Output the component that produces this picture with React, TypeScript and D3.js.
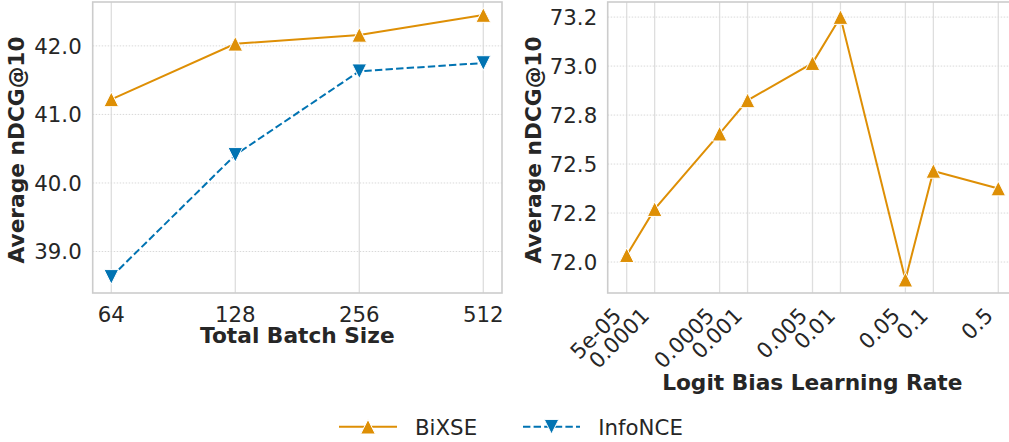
import React from "react";
import * as d3 from "d3";

const batchSizes = [64, 128, 256, 512];
const bixseBatch = [41.22, 42.03, 42.16, 42.45];
const infonceBatch = [38.63, 40.41, 41.63, 41.75];
const batchTickLabels = ["64", "128", "256", "512"];
const leftYTicks = [39, 40, 41, 42];
const leftYTickLabels = ["39.0", "40.0", "41.0", "42.0"];

const learningRates = [5e-5, 1e-4, 5e-4, 1e-3, 5e-3, 1e-2, 5e-2, 1e-1, 5e-1];
const lrTickLabels = ["5e-05", "0.0001", "0.0005", "0.001", "0.005", "0.01", "0.05", "0.1", "0.5"];
const bixseLR = [72.035, 72.27, 72.655, 72.825, 73.015, 73.25, 71.91, 72.465, 72.375];
const rightYTicks = [72.0, 72.25, 72.5, 72.75, 73.0, 73.25];
const rightYTickLabels = ["72.0", "72.2", "72.5", "72.8", "73.0", "73.2"];

const ORANGE = "#de8f05";
const BLUE = "#0173b2";
const TEXT = "#262626";
const FONT = "DejaVu Sans";
const FS = 21.3;
const FSB = 21.7;

const tri = (x: number, y: number, up: boolean, s = 7.3) =>
  up
    ? `M${x},${y - s}L${x + s},${y + s}L${x - s},${y + s}Z`
    : `M${x},${y + s}L${x + s},${y - s}L${x - s},${y - s}Z`;

export default function App() {
  const W = 1009;
  const H = 442;

  // Left panel
  const L = { x0: 92.7, x1: 502, y0: 2, y1: 293 };
  const xL = d3.scaleLog().base(2).domain([64, 512]).range([111.3, 483.3]);
  const yL = d3.scaleLinear().domain([38.395, 42.64]).range([L.y1, L.y0]);

  // Right panel
  const R = { x0: 607.7, x1: 1017, y0: 2, y1: 293 };
  const xR = d3.scaleLog().domain([5e-5, 0.5]).range([626.7, 998.3]);
  const yR = d3.scaleLinear().domain([71.842, 73.327]).range([R.y1, R.y0]);

  const lineL = (vals: number[]) =>
    d3.line<number>().x((_, i) => xL(batchSizes[i])).y((v) => yL(v))(vals) || "";
  const lineR = d3.line<number>().x((_, i) => xR(learningRates[i])).y((v) => yR(v))(bixseLR) || "";

  const gridV = "#dedede";
  const gridH = "#d9d9d9";
  const frame = "#cccccc";

  return (
    <svg
      width={W}
      height={H}
      style={{ position: "absolute", left: 0, top: 0, background: "#fff" }}
      fontFamily={FONT}
    >
      <rect x={0} y={0} width={W} height={H} fill="#fff" />
      {/* LEFT PANEL */}
      <g>
        {batchSizes.map((b) => (
          <line key={b} x1={xL(b)} x2={xL(b)} y1={L.y0} y2={L.y1} stroke={gridV} strokeWidth={1.3} />
        ))}
        {leftYTicks.map((t) => (
          <line key={t} x1={L.x0} x2={L.x1} y1={yL(t)} y2={yL(t)} stroke={gridH} strokeWidth={1} strokeDasharray="1.5,1.5" />
        ))}
        <rect x={L.x0} y={L.y0} width={L.x1 - L.x0} height={L.y1 - L.y0} fill="none" stroke={frame} strokeWidth={1.6} />
        <path d={lineL(bixseBatch)} fill="none" stroke={ORANGE} strokeWidth={2} />
        <path d={lineL(infonceBatch)} fill="none" stroke={BLUE} strokeWidth={2} strokeDasharray="7.4,3.2" />
        {bixseBatch.map((v, i) => (
          <path key={"b" + i} d={tri(xL(batchSizes[i]), yL(v), true)} fill={ORANGE} stroke="#fff" strokeWidth={1} />
        ))}
        {infonceBatch.map((v, i) => (
          <path key={"n" + i} d={tri(xL(batchSizes[i]), yL(v), false)} fill={BLUE} stroke="#fff" strokeWidth={1} />
        ))}
        {leftYTicks.map((t, i) => (
          <text key={t} x={L.x0 - 11} y={yL(t)} dy="0.36em" textAnchor="end" fontSize={FS} fill={TEXT}>
            {leftYTickLabels[i]}
          </text>
        ))}
        {batchSizes.map((b, i) => (
          <text key={b} x={xL(b)} y={321.5} textAnchor="middle" fontSize={FS} fill={TEXT}>
            {batchTickLabels[i]}
          </text>
        ))}
        <text x={(L.x0 + L.x1) / 2} y={343.3} textAnchor="middle" fontSize={FSB} fontWeight="bold" fill={TEXT}>
          Total Batch Size
        </text>
        <text
          transform={`translate(24,150) rotate(-90)`}
          textAnchor="middle"
          fontSize={FSB}
          fontWeight="bold"
          fill={TEXT}
        >
          Average nDCG@10
        </text>
      </g>

      {/* RIGHT PANEL */}
      <g>
        {learningRates.map((b) => (
          <line key={b} x1={xR(b)} x2={xR(b)} y1={R.y0} y2={R.y1} stroke={gridV} strokeWidth={1.3} />
        ))}
        {rightYTicks.map((t) => (
          <line key={t} x1={R.x0} x2={R.x1} y1={yR(t)} y2={yR(t)} stroke={gridH} strokeWidth={1} strokeDasharray="1.5,1.5" />
        ))}
        <rect x={R.x0} y={R.y0} width={R.x1 - R.x0} height={R.y1 - R.y0} fill="none" stroke={frame} strokeWidth={1.6} />
        <path d={lineR} fill="none" stroke={ORANGE} strokeWidth={2} />
        {bixseLR.map((v, i) => (
          <path key={"r" + i} d={tri(xR(learningRates[i]), yR(v), true)} fill={ORANGE} stroke="#fff" strokeWidth={1} />
        ))}
        {rightYTicks.map((t, i) => (
          <text key={t} x={R.x0 - 10.5} y={yR(t)} dy="0.36em" textAnchor="end" fontSize={FS} fill={TEXT}>
            {rightYTickLabels[i]}
          </text>
        ))}
        {learningRates.map((b, i) => (
          <text
            key={b}
            transform={`translate(${xR(b) - 4},${317}) rotate(-45)`}
            textAnchor="end"
            fontSize={FS}
            fill={TEXT}
          >
            {lrTickLabels[i]}
          </text>
        ))}
        <text x={812.3} y={389.8} textAnchor="middle" fontSize={FSB} fontWeight="bold" fill={TEXT}>
          Logit Bias Learning Rate
        </text>
        <text
          transform={`translate(541,150) rotate(-90)`}
          textAnchor="middle"
          fontSize={FSB}
          fontWeight="bold"
          fill={TEXT}
        >
          Average nDCG@10
        </text>
      </g>

      {/* LEGEND */}
      <g>
        <line x1={339} x2={397} y1={426.7} y2={426.7} stroke={ORANGE} strokeWidth={2} />
        <path d={tri(368, 426.7, true)} fill={ORANGE} stroke="#fff" strokeWidth={1} />
        <text x={415} y={435} fontSize={FS} fill={TEXT}>BiXSE</text>
        <line x1={523} x2={580} y1={426.7} y2={426.7} stroke={BLUE} strokeWidth={2} strokeDasharray="7.4,3.2" />
        <path d={tri(551.5, 426.7, false)} fill={BLUE} stroke="#fff" strokeWidth={1} />
        <text x={598.3} y={435} fontSize={FS} fill={TEXT}>InfoNCE</text>
      </g>
    </svg>
  );
}
